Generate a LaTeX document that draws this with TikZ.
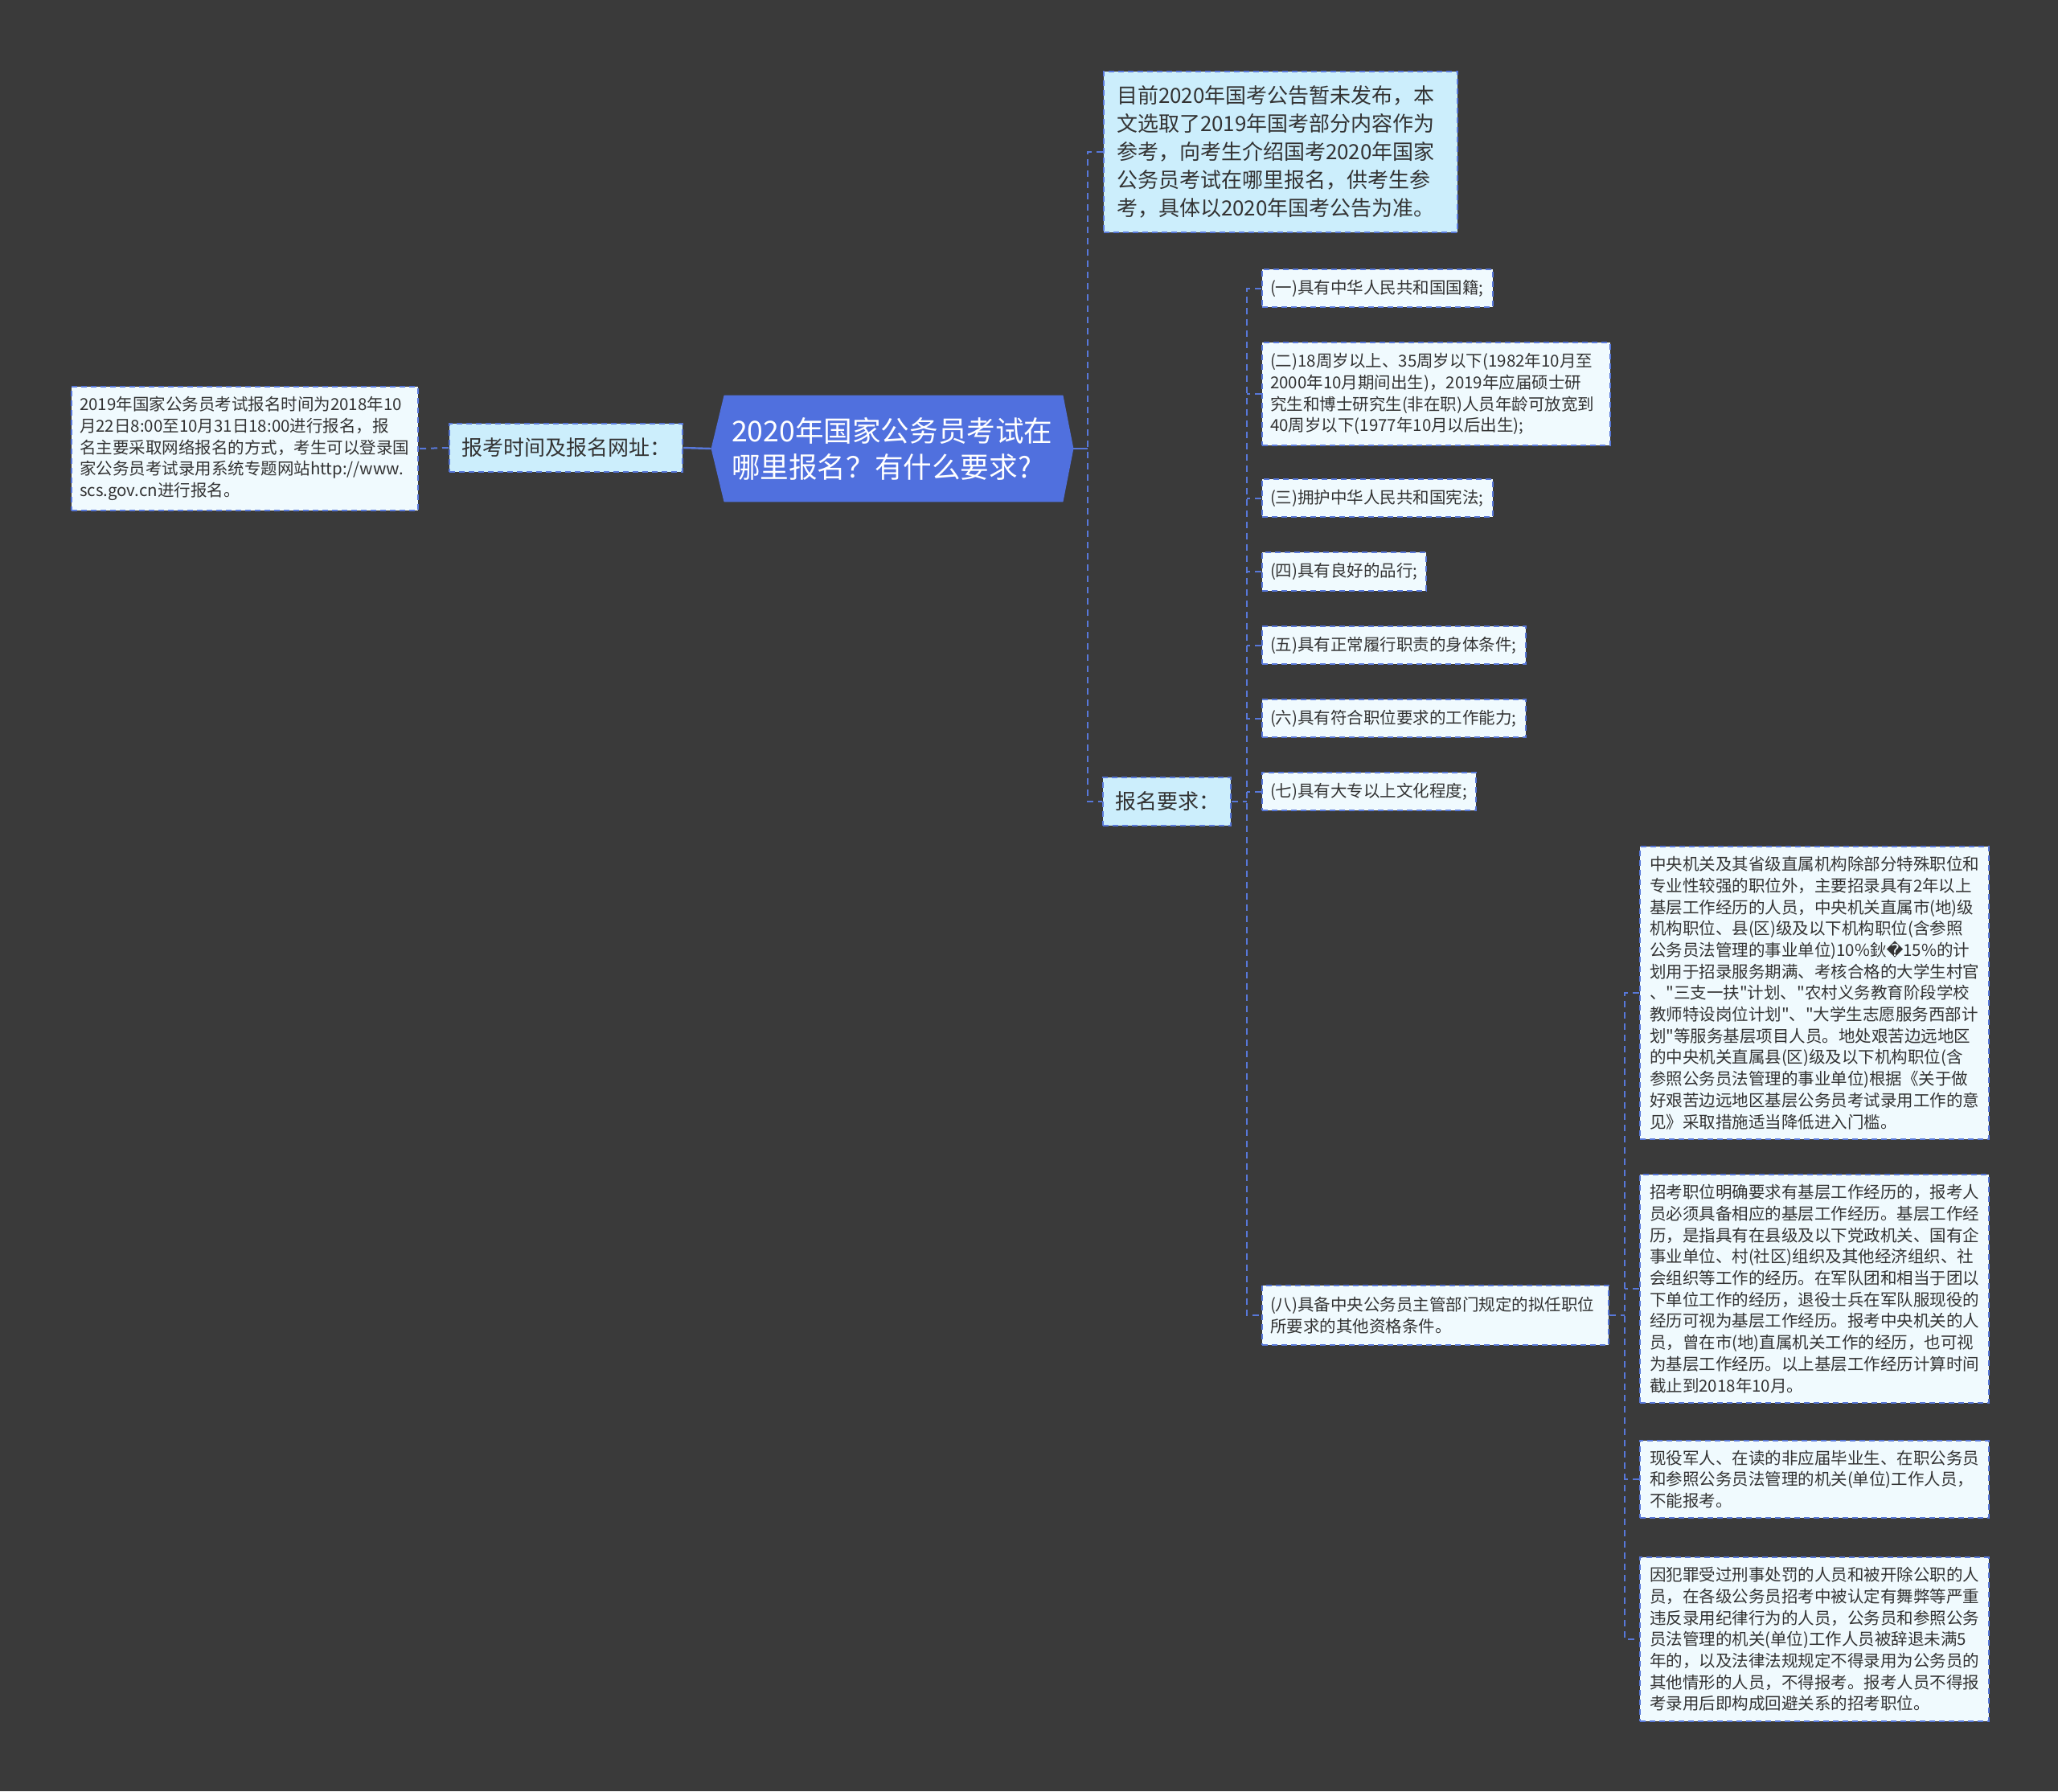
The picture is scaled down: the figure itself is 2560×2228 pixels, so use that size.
\documentclass[tikz,border=0pt]{standalone}
\usepackage{fontspec}
\setmainfont{Noto Sans CJK SC}[Ligatures=TeXOff]
\newfontfamily\symfont{DejaVu Sans}
\usepackage{tikz}
\usetikzlibrary{backgrounds}

\definecolor{bgdark}{HTML}{3A3A3A}
\definecolor{rootblue}{HTML}{5070DE}
\definecolor{linkblue}{HTML}{5878DA}
\definecolor{topicfill}{HTML}{CCEEFC}
\definecolor{leaffill}{HTML}{F0FAFE}
\definecolor{inkgray}{HTML}{333333}

% straight double quote
\newcommand\dq{\char"22\relax}

\begin{document}
\begin{tikzpicture}[x=0.5pt, y=-0.5pt,
  box/.style={draw=linkblue, line width=1pt, dash pattern=on 3.5pt off 2.5pt,
    text=inkgray, align=left, anchor=west},
  topic/.style={box, fill=topicfill, font=\fontsize{13}{17.5}\selectfont,
    inner xsep=7.5pt, inner ysep=9pt},
  leaf/.style={box, fill=leaffill, font=\fontsize{10.25}{13.35}\selectfont,
    inner xsep=5pt, inner ysep=6.5pt},
  detail/.style={leaf, text width=205pt, inner xsep=6pt, inner ysep=6pt},
  link/.style={draw=linkblue, line width=1pt, dash pattern=on 4pt off 3pt},
  stem/.style={draw=linkblue, line width=1.2pt}]

\useasboundingbox (0,0) rectangle (2560,2228);

%--- Root ---
\node[text=white, align=left, text width=200pt, minimum width=225pt, minimum height=66pt,
  font=\fontsize{17.8}{22.5}\selectfont] (root) at (1110,558)
  {2020年国家公务员考试在\\哪里报名？有什么要求?};

%--- Left branch ---
\node[topic, text width=130pt] (when) at (558,557) {报考时间及报名网址：};
\node[leaf, text width=205.5pt, inner ysep=6pt] (whenText) at (88,558)
  {2019年国家公务员考试报名时间为2018年10\\
   月22日8:00至10月31日18:00进行报名，报\\
   名主要采取网络报名的方式，考生可以登录国\\
   家公务员考试录用系统专题网站http://www.\\
   scs.gov.cn进行报名。};

%--- Right branch ---
\node[topic, text width=204pt, inner xsep=8pt] (note) at (1372,189)
  {目前2020年国考公告暂未发布，本\\
   文选取了2019年国考部分内容作为\\
   参考，向考生介绍国考2020年国家\\
   公务员考试在哪里报名，供考生参\\
   考，具体以2020年国考公告为准。};
\node[topic, text width=64.5pt] (req) at (1371,997) {报名要求：};

% requirements
\node[leaf, text width=133.5pt] (r1) at (1569,358.5) {(一)具有中华人民共和国国籍;};
\node[leaf, text width=206.5pt] (r2) at (1569,490)
  {(二)18周岁以上、35周岁以下(1982年10月至\\
   2000年10月期间出生)，2019年应届硕士研\\
   究生和博士研究生(非在职)人员年龄可放宽到\\
   40周岁以下(1977年10月以后出生);};
\node[leaf, text width=133.5pt] (r3) at (1569,619.5) {(三)拥护中华人民共和国宪法;};
\node[leaf, text width=92pt] (r4) at (1569,711) {(四)具有良好的品行;};
\node[leaf, text width=154pt] (r5) at (1569,802.5) {(五)具有正常履行职责的身体条件;};
\node[leaf, text width=154pt] (r6) at (1569,893.5) {(六)具有符合职位要求的工作能力;};
\node[leaf, text width=123pt] (r7) at (1569,984.5) {(七)具有大专以上文化程度;};
\node[leaf, text width=205.5pt, inner ysep=7pt] (r8) at (1569,1636)
  {(八)具备中央公务员主管部门规定的拟任职位\\
   所要求的其他资格条件。};

% details of item eight
\node[detail] (dA) at (2039,1235)
  {中央机关及其省级直属机构除部分特殊职位和\\
   专业性较强的职位外，主要招录具有2年以上\\
   基层工作经历的人员，中央机关直属市(地)级\\
   机构职位、县(区)级及以下机构职位(含参照\\
   公务员法管理的事业单位)10\%鈥{\symfont\char"FFFD}15\%的计\\
   划用于招录服务期满、考核合格的大学生村官\\
   、\dq 三支一扶\dq 计划、\dq 农村义务教育阶段学校\\
   教师特设岗位计划\dq 、\dq 大学生志愿服务西部计\\
   划\dq 等服务基层项目人员。地处艰苦边远地区\\
   的中央机关直属县(区)级及以下机构职位(含\\
   参照公务员法管理的事业单位)根据《关于做\\
   好艰苦边远地区基层公务员考试录用工作的意\\
   见》采取措施适当降低进入门槛。};
\node[detail] (dB) at (2039,1603)
  {招考职位明确要求有基层工作经历的，报考人\\
   员必须具备相应的基层工作经历。基层工作经\\
   历，是指具有在县级及以下党政机关、国有企\\
   事业单位、村(社区)组织及其他经济组织、社\\
   会组织等工作的经历。在军队团和相当于团以\\
   下单位工作的经历，退役士兵在军队服现役的\\
   经历可视为基层工作经历。报考中央机关的人\\
   员，曾在市(地)直属机关工作的经历，也可视\\
   为基层工作经历。以上基层工作经历计算时间\\
   截止到2018年10月。};
\node[detail] (dC) at (2039,1840)
  {现役军人、在读的非应届毕业生、在职公务员\\
   和参照公务员法管理的机关(单位)工作人员，\\
   不能报考。};
\node[detail] (dD) at (2039,2039)
  {因犯罪受过刑事处罚的人员和被开除公职的人\\
   员，在各级公务员招考中被认定有舞弊等严重\\
   违反录用纪律行为的人员，公务员和参照公务\\
   员法管理的机关(单位)工作人员被辞退未满5\\
   年的，以及法律法规规定不得录用为公务员的\\
   其他情形的人员，不得报考。报考人员不得报\\
   考录用后即构成回避关系的招考职位。};

%--- Background and root shape ---
\begin{scope}[on background layer]
  \fill[bgdark] (0,0) rectangle (2560,2228);
  \fill[rootblue] (root.west) -- ([xshift=8pt]root.north west) -- ([xshift=-6.5pt]root.north east)
    -- (root.east) -- ([xshift=-6.5pt]root.south east) -- ([xshift=8pt]root.south west) -- cycle;
\end{scope}

%--- Connectors ---
\coordinate (rb) at (1353,558);
\coordinate (qb) at (1551,997);
\coordinate (eb) at (2021,1636);

\draw[stem] (root.west) -- (when.east);
\draw[link] (when.west) -- (whenText.east);

\draw[stem] (root.east) -- (rb);
\draw[link] (note.west) -- (note.west -| rb) -- (req.west -| rb) -- (req.west);

\draw[link] (req.east) -- (qb);
\draw[link] (r1.west) -- (r1.west -| qb) -- (r8.west -| qb) -- (r8.west);
\foreach \n in {2,...,7}
  \draw[link] (r\n.west) -- (r\n.west -| qb);

\draw[link] (r8.east) -- (eb);
\draw[link] (dA.west) -- (dA.west -| eb) -- (dD.west -| eb) -- (dD.west);
\foreach \n in {B,C}
  \draw[link] (d\n.west) -- (d\n.west -| eb);
\end{tikzpicture}
\end{document}
